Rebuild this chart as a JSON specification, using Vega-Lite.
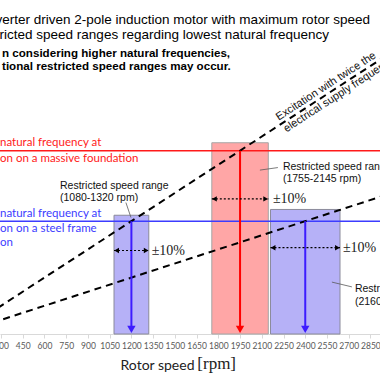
{
  "$schema": "https://vega.github.io/schema/vega-lite/v6.json",
  "width": 380,
  "height": 334,
  "padding": {"left": 0, "top": 0, "right": 0, "bottom": 46},
  "autosize": {"type": "none"},
  "background": "white",
  "config": {
    "view": {"stroke": null},
    "axisY": {"disable": true}
  },
  "encoding": {
    "x": {"field": "rpm", "type": "quantitative", "scale": {"domain": [293, 2916], "nice": false, "zero": false}, "axis": {"values": [300,450,600,750,900,1050,1200,1350,1500,1650,1800,1950,2100,2250,2400,2550,2700,2850], "format": "d", "title": "Rotor speed", "titleFont": "Lato", "titleFontSize": 14, "titleFontWeight": "normal", "titleColor": "#222222", "titleX": 157, "titleY": 31, "titleBaseline": "middle", "titleAlign": "center", "labelFont": "Lato", "labelFontSize": 8.5, "labelColor": "#595959", "labelPadding": 3, "domainColor": "#d9d9d9", "tickColor": "#d9d9d9", "tickSize": 4, "grid": false, "labelFlush": false, "labelOverlap": false, "labelBound": false}},
    "y": {"field": "f", "type": "quantitative", "scale": {"domain": [0, 118.4], "nice": false, "zero": false}, "axis": null}
  },
  "layer": [
    {
      "data": {"values": [
        {"rpm": 1080, "rpm2": 1320, "f": 42.1},
        {"rpm": 2160, "rpm2": 2640, "f": 44.15}
      ]},
      "mark": {"type": "rect", "fill": "#b6b1f7", "stroke": "#8a8a9a", "strokeWidth": 1},
      "encoding": {"x2": {"field": "rpm2"}, "y2": {"datum": 0}}
    },
    {
      "data": {"values": [{"rpm": 1755, "rpm2": 2145, "f": 67.8}]},
      "mark": {"type": "rect", "fill": "#ffa6a6", "stroke": "#a6a6a6", "strokeWidth": 1},
      "encoding": {"x2": {"field": "rpm2"}, "y2": {"datum": 0}}
    },
    {
      "data": {"values": [{"rpm": 293, "rpm2": 2916, "f": 65}]},
      "mark": {"type": "rule", "color": "#ff1a1a", "strokeWidth": 1.5},
      "encoding": {"x2": {"field": "rpm2"}}
    },
    {
      "data": {"values": [{"rpm": 293, "rpm2": 2916, "f": 40}]},
      "mark": {"type": "rule", "color": "#3c3cff", "strokeWidth": 1.5},
      "encoding": {"x2": {"field": "rpm2"}}
    },
    {
      "data": {"values": [
        {"rpm": 0, "f": 0, "order": "twice"},
        {"rpm": 3600, "f": 120, "order": "twice"},
        {"rpm": 0, "f": 0, "order": "once"},
        {"rpm": 3600, "f": 60, "order": "once"}
      ]},
      "mark": {"type": "line", "color": "#000000", "strokeWidth": 2, "strokeDash": [7, 5], "clip": true},
      "encoding": {"detail": {"field": "order"}}
    },
    {
      "data": {"values": [{"rpm": 1200, "f": 40}, {"rpm": 2400, "f": 40}]},
      "mark": {"type": "rule", "color": "#3d1cff", "strokeWidth": 2},
      "encoding": {"y2": {"datum": 2}}
    },
    {
      "data": {"values": [{"rpm": 1200, "f": 1.6}, {"rpm": 2400, "f": 1.6}]},
      "mark": {"type": "point", "shape": "triangle-down", "filled": true, "color": "#3d1cff", "size": 70, "opacity": 1},
      "encoding": {}
    },
    {
      "data": {"values": [{"rpm": 1950, "f": 65}]},
      "mark": {"type": "rule", "color": "#ff0000", "strokeWidth": 2},
      "encoding": {"y2": {"datum": 2}}
    },
    {
      "data": {"values": [{"rpm": 1950, "f": 1.6}]},
      "mark": {"type": "point", "shape": "triangle-down", "filled": true, "color": "#ff0000", "size": 70, "opacity": 1},
      "encoding": {}
    },
    {
      "data": {"values": [
        {"rpm": 1080, "rpm2": 1320, "f": 29.6},
        {"rpm": 1755, "rpm2": 2145, "f": 47.9},
        {"rpm": 2160, "rpm2": 2640, "f": 30.6}
      ]},
      "mark": {"type": "rule", "color": "#000000", "strokeWidth": 1.2, "strokeDash": [2, 2]},
      "encoding": {"x2": {"field": "rpm2"}}
    },
    {
      "data": {"values": [
        {"rpm": 1098, "f": 29.6},
        {"rpm": 1773, "f": 47.9},
        {"rpm": 2178, "f": 30.6}
      ]},
      "mark": {"type": "point", "shape": "triangle-left", "filled": true, "color": "#000000", "size": 30, "opacity": 1},
      "encoding": {}
    },
    {
      "data": {"values": [
        {"rpm": 1302, "f": 29.6},
        {"rpm": 2127, "f": 47.9},
        {"rpm": 2622, "f": 30.6}
      ]},
      "mark": {"type": "point", "shape": "triangle-right", "filled": true, "color": "#000000", "size": 30, "opacity": 1},
      "encoding": {}
    },
    {
      "data": {"values": [
        {"rpm": 1162, "f": 46.6, "rpm2": 1197, "f2": 41.3},
        {"rpm": 2087, "f": 58.1, "rpm2": 2211, "f2": 59.0},
        {"rpm": 2584, "f": 18.4, "rpm2": 2722, "f2": 16.7}
      ]},
      "mark": {"type": "rule", "color": "#595959", "strokeWidth": 0.8},
      "encoding": {"x2": {"field": "rpm2"}, "y2": {"field": "f2"}}
    },
    {
      "data": {"values": [
        {"rpm": 1340, "f": 29.6, "t": "±10%"},
        {"rpm": 2177, "f": 47.9, "t": "±10%"},
        {"rpm": 2660, "f": 30.6, "t": "±10%"}
      ]},
      "mark": {"type": "text", "font": "Liberation Serif", "fontSize": 14, "align": "left", "baseline": "middle", "color": "#222222", "clip": true},
      "encoding": {"text": {"field": "t"}}
    },
    {
      "data": {"values": [
        {"rpm": 707, "f": 52.4, "t": "Restricted speed range"},
        {"rpm": 707, "f": 48.3, "t": "(1080-1320 rpm)"},
        {"rpm": 2246, "f": 59.3, "t": "Restricted speed range"},
        {"rpm": 2246, "f": 55.0, "t": "(1755-2145 rpm)"},
        {"rpm": 2743, "f": 15.8, "t": "Restricted speed range"},
        {"rpm": 2743, "f": 11.3, "t": "(2160-2640 rpm)"}
      ]},
      "mark": {"type": "text", "font": "Liberation Sans", "fontSize": 10.5, "align": "left", "baseline": "middle", "color": "#111111", "clip": true},
      "encoding": {"text": {"field": "t"}}
    },
    {
      "data": {"values": [
        {"rpm": 293, "f": 67.55, "t": "natural frequency at"},
        {"rpm": 293, "f": 61.9, "t": "on on a massive foundation"}
      ]},
      "mark": {"type": "text", "font": "Lato", "fontSize": 11.5, "align": "left", "baseline": "middle", "color": "#ff1a1a", "clip": true},
      "encoding": {"text": {"field": "t"}}
    },
    {
      "data": {"values": [
        {"rpm": 293, "f": 42.7, "t": "natural frequency at"},
        {"rpm": 293, "f": 37.3, "t": "on on a steel frame"},
        {"rpm": 293, "f": 32.3, "t": "on"}
      ]},
      "mark": {"type": "text", "font": "Lato", "fontSize": 11.5, "align": "left", "baseline": "middle", "color": "#3c3cff", "clip": true},
      "encoding": {"text": {"field": "t"}}
    },
    {
      "data": {"values": [
        {"rpm": 262, "f": 111.3, "t": "verter driven 2-pole induction motor with maximum rotor speed"},
        {"rpm": 290, "f": 106.0, "t": "ricted speed ranges regarding lowest natural frequency"}
      ]},
      "mark": {"type": "text", "font": "Liberation Sans", "fontSize": 13.5, "align": "left", "baseline": "middle", "color": "#000000", "clip": true},
      "encoding": {"text": {"field": "t"}}
    },
    {
      "data": {"values": [
        {"rpm": 307, "f": 99.3, "t": "n considering higher natural frequencies,"},
        {"rpm": 307, "f": 94.6, "t": "tional restricted speed ranges may occur."}
      ]},
      "mark": {"type": "text", "font": "Liberation Sans", "fontSize": 11.6, "fontWeight": "bold", "align": "left", "baseline": "middle", "color": "#000000", "clip": true},
      "encoding": {"text": {"field": "t"}}
    },
    {
      "data": {"values": [
        {"rpm": 2206, "f": 76.5, "t": ["Excitation with twice the", "electrical supply frequency"]}
      ]},
      "mark": {"type": "text", "font": "Liberation Sans", "fontSize": 11, "align": "left", "baseline": "middle", "angle": -33, "lineHeight": 14, "color": "#111111", "clip": true},
      "encoding": {"text": {"field": "t"}}
    },
    {
      "data": {"values": [{"rpm": 1655, "f": -10.8, "t": "[rpm]"}]},
      "mark": {"type": "text", "font": "Liberation Serif", "fontSize": 17, "align": "left", "baseline": "middle", "color": "#222222"},
      "encoding": {"text": {"field": "t"}}
    }
  ]
}
